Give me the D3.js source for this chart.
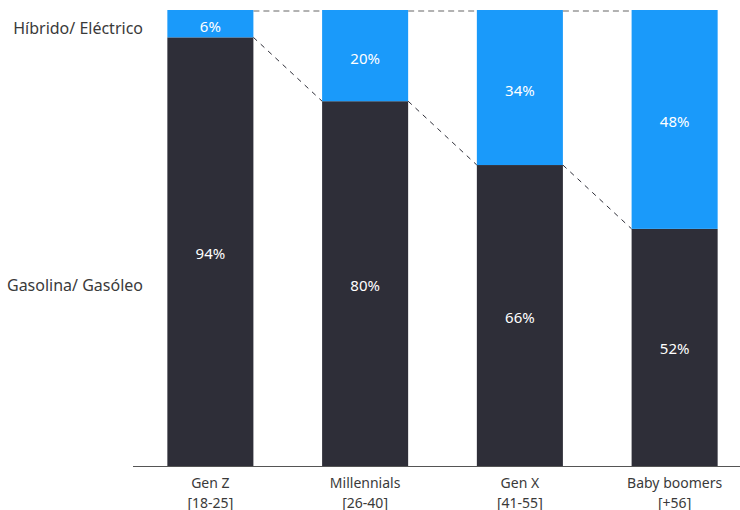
<!DOCTYPE html>
<html>
<head>
<meta charset="utf-8">
<script src="https://cdn.jsdelivr.net/npm/d3@7"></script>
<style>
  body { margin: 0; background: #fff; }
  svg { font-family: "Noto Sans", "Open Sans", sans-serif; }
  .seg-label { fill: #fff; font-size: 15px; text-anchor: middle; dominant-baseline: central; }
  .cat-label { fill: #3a3a3a; font-size: 14px; text-anchor: middle; }
  .series-label { fill: #3a3a3a; font-size: 16px; text-anchor: end; dominant-baseline: central; }
</style>
</head>
<body>
<script>
const categories = ['Gen Z', 'Millennials', 'Gen X', 'Baby boomers'];
const ranges = ['[18-25]', '[26-40]', '[41-55]', '[+56]'];
const gasolina = [94, 80, 66, 52];
const hibrido = [6, 20, 34, 48];
const seriesNames = ['Híbrido/ Eléctrico', 'Gasolina/ Gasóleo'];

const width = 740, height = 510;
const plotTop = 10, baseline = 466;

const svg = d3.select('body').append('svg')
  .attr('width', width)
  .attr('height', height);

const x = d3.scaleBand()
  .domain(categories)
  .range([133, 752])
  .paddingInner(0.444)
  .paddingOuter(0.222);

const y = d3.scaleLinear()
  .domain([0, 100])
  .range([baseline, plotTop]);

const data = categories.map((c, i) => ({ cat: c, range: ranges[i], gas: gasolina[i], hib: hibrido[i] }));

// dashed connectors
for (let i = 0; i < data.length - 1; i++) {
  const a = data[i], b = data[i + 1];
  const x1 = x(a.cat) + x.bandwidth(), x2 = x(b.cat);
  svg.append('line')
    .attr('x1', x1).attr('x2', x2)
    .attr('y1', y(100) + 1).attr('y2', y(100) + 1)
    .attr('stroke', '#999').attr('stroke-width', 1.5)
    .attr('stroke-dasharray', '6,4');
  svg.append('line')
    .attr('x1', x1).attr('x2', x2)
    .attr('y1', y(a.gas)).attr('y2', y(b.gas))
    .attr('stroke', '#2e2e38').attr('stroke-width', 1)
    .attr('stroke-dasharray', '5,5');
}

const g = svg.selectAll('.bar')
  .data(data)
  .enter()
  .append('g')
  .attr('class', 'bar');

g.append('rect')
  .attr('x', d => x(d.cat))
  .attr('width', x.bandwidth())
  .attr('y', d => y(d.gas))
  .attr('height', d => y(0) - y(d.gas))
  .attr('fill', '#2e2e38');

g.append('rect')
  .attr('x', d => x(d.cat))
  .attr('width', x.bandwidth())
  .attr('y', d => y(100))
  .attr('height', d => y(d.gas) - y(100))
  .attr('fill', '#1a9afa');

g.append('text')
  .attr('class', 'seg-label')
  .attr('x', d => x(d.cat) + x.bandwidth() / 2)
  .attr('y', d => (y(100) + y(d.gas)) / 2 + 2)
  .text(d => d.hib + '%');

g.append('text')
  .attr('class', 'seg-label')
  .attr('x', d => x(d.cat) + x.bandwidth() / 2)
  .attr('y', d => (y(d.gas) + y(0)) / 2 + 1)
  .text(d => d.gas + '%');

// baseline axis
svg.append('line')
  .attr('x1', 133).attr('x2', width)
  .attr('y1', baseline + 0.5).attr('y2', baseline + 0.5)
  .attr('stroke', '#555').attr('stroke-width', 1);

const lab = g.append('text')
  .attr('class', 'cat-label')
  .attr('x', d => x(d.cat) + x.bandwidth() / 2)
  .attr('y', baseline + 22);
lab.append('tspan').text(d => d.cat);
lab.append('tspan')
  .attr('x', d => x(d.cat) + x.bandwidth() / 2)
  .attr('dy', 19.5)
  .text(d => d.range);

svg.append('text').attr('class', 'series-label')
  .attr('x', 143).attr('y', 28).text(seriesNames[0]);
svg.append('text').attr('class', 'series-label')
  .attr('x', 143).attr('y', 285).text(seriesNames[1]);
</script>
</body>
</html>
